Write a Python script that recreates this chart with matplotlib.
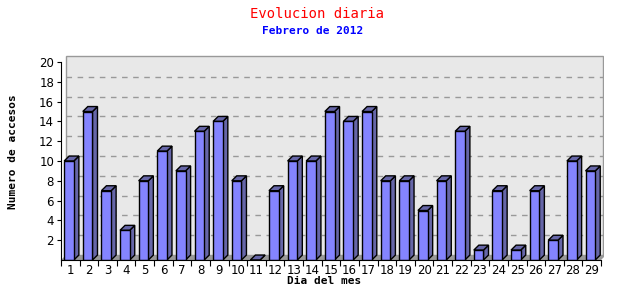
import matplotlib.pyplot as plt
from matplotlib.patches import Polygon, Rectangle

# datos
dias = list(range(1, 30))
accesos = [10, 15, 7, 3, 8, 11, 9, 13, 14, 8, 0, 7, 10, 10, 15,
           14, 15, 8, 8, 5, 8, 13, 1, 7, 1, 7, 2, 10, 9]
y_ticks = [2, 4, 6, 8, 10, 12, 14, 16, 18, 20]
grid_vals = [2, 4, 6, 8, 10, 12, 14, 16, 18]

titulo = "Evolucion diaria"
subtitulo = "Febrero de 2012"

# colores
front_col = "#8484FF"
side_col = "#6666A8"
wall_col = "#E8E8E8"
floor_col = "#999999"

# profundidad 3d (unidades de datos)
dx = 0.27
dy = 0.5
bar_w = 0.52
bar_off = -0.33

fig = plt.figure(figsize=(6.4, 3.0), dpi=100)
ax = fig.add_axes([61 / 640, 40 / 300, 543 / 640, 205 / 300])
xmax = 0.5 + 543 / 18.62
ymax = 205 / 9.9
ax.set_xlim(0.5, xmax)
ax.set_ylim(0, ymax)

# pared del fondo
ax.add_patch(Rectangle((0.5 + dx, dy), xmax - 0.5 - dx - 0.04, ymax - dy - 0.08,
                       facecolor=wall_col, edgecolor="#999999", lw=1.0, zorder=0))
for v in grid_vals:
    ax.plot([0.5 + dx, xmax - 0.04], [v + dy, v + dy], color="#999999",
            lw=1.0, dashes=(4, 4), zorder=1)

# suelo
ax.add_patch(Polygon([(0.5, 0), (29.5, 0), (29.5 + dx, dy), (0.5 + dx, dy)],
                     closed=True, facecolor=floor_col, edgecolor="none", zorder=1))

# barras
for d, v in zip(dias, accesos):
    x0 = d + bar_off
    x1 = x0 + bar_w
    side = Polygon([(x1, 0), (x1 + dx, dy), (x1 + dx, v + dy), (x1, v)],
                   closed=True, facecolor=side_col, edgecolor="black", lw=1.0, zorder=3)
    top = Polygon([(x0, v), (x0 + dx, v + dy), (x1 + dx, v + dy), (x1, v)],
                  closed=True, facecolor=side_col, edgecolor="black", lw=1.0, zorder=3)
    ax.add_patch(side)
    ax.add_patch(top)
ax.bar([d + bar_off for d in dias], accesos, width=bar_w, align="edge",
       color=front_col, edgecolor="black", lw=1.0, zorder=4)

# ejes
for s in ["top", "right"]:
    ax.spines[s].set_visible(False)
ax.spines["left"].set_bounds(0, 20)
ax.spines["bottom"].set_bounds(0.5, 29.5)
ax.spines["left"].set_zorder(5)
ax.spines["bottom"].set_zorder(5)

ax.set_yticks(y_ticks)
ax.set_yticklabels([str(t) for t in y_ticks])
ax.set_xticks([d + 0.5 for d in [0] + dias])
ax.set_xticklabels([])
ax.set_xticks(dias, minor=True)
ax.set_xticklabels([str(d) for d in dias], minor=True)
ax.tick_params(axis="x", which="major", length=4, direction="out")
ax.tick_params(axis="x", which="minor", length=0, pad=3, labelsize=8.5)
ax.tick_params(axis="y", length=3, direction="out", labelsize=8.5, pad=2)

fig.text(317 / 640, 1 - 14 / 300, titulo, color="red", ha="center", va="center",
         family="DejaVu Sans Mono", fontsize=10)
fig.text(313 / 640, 1 - 31 / 300, subtitulo, color="blue", ha="center", va="center",
         family="DejaVu Sans Mono", fontsize=8, fontweight="bold")
fig.text(13 / 640, 1 - 152 / 300, "Numero de accesos", rotation=90, ha="center",
         va="center", family="DejaVu Sans Mono", fontsize=8, fontweight="bold")
fig.text(324 / 640, 1 - 281 / 300, "Dia del mes", ha="center", va="center",
         family="DejaVu Sans Mono", fontsize=8, fontweight="bold")

fig.savefig("out.png", dpi=100)
